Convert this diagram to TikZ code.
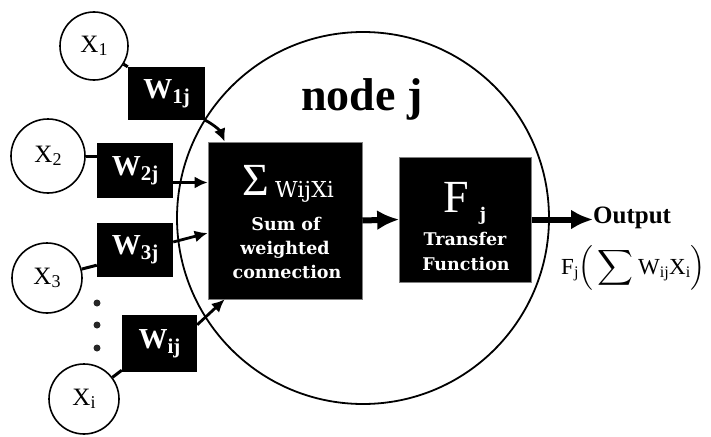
\documentclass[tikz,border=0pt]{standalone}
\usepackage{fontspec}
\setmainfont{Liberation Serif}
\newfontfamily\boxfont{DejaVu Serif}
\usepackage{amsmath}
\usepackage{xcolor}
\usetikzlibrary{calc}
\usetikzlibrary{arrows.meta}
\tikzset{>=latex}
\tikzset{
	wbox/.style={fill=black, text=white, inner sep=0pt, minimum width=76pt,
		minimum height=55pt, font=\bfseries\fontsize{29}{29}\selectfont},
	xnode/.style={circle, draw=black, line width=1.6pt, fill=white, inner sep=0pt,
		minimum size=70pt, font=\fontsize{25}{25}\selectfont},
	blackbox/.style={fill=black, draw=gray, line width=0.6pt, inner sep=0pt},
	boxtext/.style={text=white, inner sep=0pt, anchor=base,
		font=\boxfont\bfseries\fontsize{17.5}{17.5}\selectfont},
	link/.style={line width=3pt, draw=black},
	warrow/.style={-{Latex[length=13pt,width=12pt]}, line width=2.8pt},
	bigarrow/.style={-{Latex[length=22pt,width=20pt]}, line width=6pt}
}
\newcommand{\wlab}[1]{W\raisebox{-0.4ex}{\fontsize{21}{21}\selectfont #1}}
\newcommand{\xlab}[1]{X\raisebox{-0.3ex}{\fontsize{18}{18}\selectfont #1}}

\begin{document}
\begin{tikzpicture}[x=1pt, y=-1pt]
	
	\useasboundingbox (0,0) rectangle (711,436);
	
	%% Node j
	\node[circle, draw=black, line width=1.8pt, minimum size=372pt, inner sep=0pt]
	(nodej) at (363,218) {};
	\node[font=\bfseries\fontsize{46}{46}\selectfont, anchor=base, inner sep=0pt]
	(title) at (362,110) {node j};
	
	% Inputs
	\node[xnode, minimum size=68pt] (X1) at (94,46) {\xlab{1}};
	\node[xnode, minimum size=74pt] (X2) at (48,156) {\xlab{2}};
	\node[xnode] (X3) at (47,278) {\xlab{3}};
	\node[xnode] (Xi) at (84,399) {\xlab{i}};
	
	\foreach \y in {303,325,348}
	{
	\fill[black!85] (97,\y) circle (3.5);
	}
	
	% Weights
	\node[wbox, minimum width=77pt, minimum height=53pt] (W1j) at (166.5,93.5) {\wlab{1j}};
	\node[wbox] (W2j) at (135,170.5) {\wlab{2j}};
	\node[wbox, minimum height=54pt] (W3j) at (135,250) {\wlab{3j}};
	\node[wbox, minimum width=75pt, minimum height=57pt] (Wij) at (159.5,343.5) {\wlab{ij}};
	
	\draw[link] (X1) -- (W1j.north west);
	\draw[link] (X2.east) -- (X2.east -| W2j.west);
	\draw[link] (X3) -- ([yshift=12pt]W3j.south west);
	\draw[link] (Xi) -- ([yshift=2pt]Wij.south west);
	
	% Sum
	\node[blackbox, minimum width=154pt, minimum height=157pt] (sum) at (285,220.5) {};
	\node[text=white, inner sep=0pt, anchor=base, font=\fontsize{46}{46}\selectfont]
	(sigma) at (256,195) {Σ};
	\node[text=white, inner sep=0pt, anchor=base west, font=\boxfont\fontsize{22}{22}\selectfont]
	(wx) at (275,197) {WijXi};
	\node[boxtext] (sumof) at (286,230) {Sum of};
	\node[boxtext] (weighted) at (285,254) {weighted};
	\node[boxtext] (connection) at (287,278) {connection};
	
	% Transfer
	\node[blackbox, minimum width=132pt, minimum height=125pt] (F) at (465.5,219.5) {};
	\node[text=white, inner sep=0pt, anchor=base, font=\fontsize{46}{46}\selectfont]
	(Fj) at (456,212) {F};
	\node[boxtext] (jj) at (483,220) {j};
	\node[boxtext] (transfer) at (465,245) {Transfer};
	\node[boxtext] (function) at (466,270) {Function};
	
	%% Output
	\node[font=\bfseries\fontsize{25}{25}\selectfont, anchor=west, inner sep=0pt]
	(out) at (593,218) {Output};
	\node[font=\fontsize{23}{23}\selectfont, anchor=west, inner sep=0pt] (fout) at (561,268)
	{$\mathrm{F}_{\mathrm{j}}\Big(\displaystyle\sum \mathrm{W}_{\mathrm{ij}}\mathrm{X}_{\mathrm{i}}\Big)$};
	
	%% Arrows
	\coordinate (w2o) at ([yshift=-12pt]W2j.east);
	\coordinate (w3o) at ([yshift=8pt]W3j.east);
	\coordinate (wio) at ([yshift=-10pt]Wij.north east);
	\begin{scope}[warrow]
	\draw (W1j.south east) to[bend left=20] ([xshift=17pt]sum.north west);
	\draw (w2o) -- (w2o -| sum.west);
	\draw (w3o) -- ([yshift=-12.5pt]sum.west);
	\draw (wio) -- ([xshift=17pt]sum.south west);
	\end{scope}
	
	\draw[bigarrow] (sum.east) -- (F.west);
	\draw[bigarrow] (F.east) -- (F.east -| out.west);
	
\end{tikzpicture}
\end{document}
